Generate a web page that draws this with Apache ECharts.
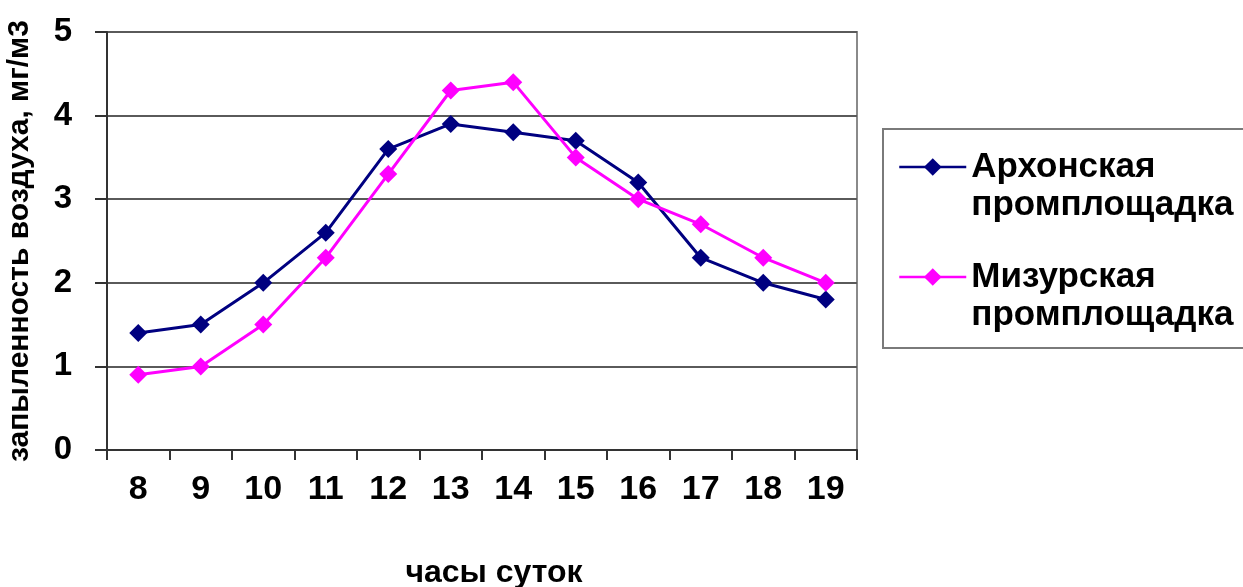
<!DOCTYPE html>
<html>
<head>
<meta charset="utf-8">
<script src="https://cdn.jsdelivr.net/npm/echarts@6/dist/echarts.min.js"></script>
<style>
  html, body { margin: 0; padding: 0; background: #fff; }
  #chart { width: 1243px; height: 587px; }
</style>
</head>
<body>
<div id="chart"></div>
<script>
// Hours of the day
const hours = ['8', '9', '10', '11', '12', '13', '14', '15', '16', '17', '18', '19'];
// Dust concentration, mg/m3
const arkhonskaya = [1.4, 1.5, 2.0, 2.6, 3.6, 3.9, 3.8, 3.7, 3.2, 2.3, 2.0, 1.8];
const mizurskaya = [0.9, 1.0, 1.5, 2.3, 3.3, 4.3, 4.4, 3.5, 3.0, 2.7, 2.3, 2.0];
const seriesNames = ['Архонская промплощадка', 'Мизурская промплощадка'];
const yTicks = { min: 0, max: 5, interval: 1 };

const FONT = '"Liberation Sans", Arial, sans-serif';
const LINE_H = 38;

const chart = echarts.init(document.getElementById('chart'), null, { renderer: 'canvas' });

chart.setOption({
  backgroundColor: '#ffffff',
  animation: false,
  grid: {
    left: 107, top: 32, right: 386, bottom: 137,
    containLabel: false,
    outerBoundsMode: 'none',
    show: true, borderColor: '#8a8a8a', borderWidth: 2, backgroundColor: 'transparent'
  },
  legend: {
    orient: 'vertical',
    left: 898,
    top: 110,
    padding: 0,
    itemGap: -4,
    itemWidth: 67,
    itemHeight: 22,
    data: seriesNames,
    lineStyle: { width: 2.5 },
    // leading empty line keeps the symbol level with the first text line
    formatter: name => '\n' + name.replace(' ', '\n'),
    textStyle: {
      fontFamily: FONT, fontWeight: 'bold', fontSize: 35, color: '#000',
      lineHeight: LINE_H
    }
  },
  graphic: [{
    type: 'rect',
    shape: { x: 883, y: 129, width: 380, height: 219 },
    style: { fill: 'none', stroke: '#7a7a7a', lineWidth: 2 },
    z: -1
  }],
  xAxis: {
    type: 'category',
    data: hours,
    boundaryGap: true,
    name: 'часы суток',
    nameLocation: 'middle',
    nameGap: 107,
    nameTextStyle: { fontFamily: FONT, fontWeight: 'bold', fontSize: 32, color: '#000', padding: [0, 0, 0, 24] },
    axisLine: { lineStyle: { color: '#333', width: 2 } },
    axisTick: { show: true, inside: false, length: 10, alignWithLabel: false, lineStyle: { color: '#333', width: 2 } },
    axisLabel: { margin: 23, fontFamily: FONT, fontWeight: 'bold', fontSize: 34, color: '#000' },
    splitLine: { show: false }
  },
  yAxis: {
    type: 'value',
    min: yTicks.min, max: yTicks.max, interval: yTicks.interval,
    name: 'запыленность воздуха, мг/м3',
    nameLocation: 'middle',
    nameRotate: 90,
    nameGap: 72,
    nameTextStyle: { fontFamily: FONT, fontWeight: 'bold', fontSize: 30, color: '#000' },
    axisLine: { show: true, lineStyle: { color: '#333', width: 2 } },
    axisTick: { show: true, inside: false, length: 12, lineStyle: { color: '#333', width: 2 } },
    axisLabel: { margin: 35, fontFamily: FONT, fontWeight: 'bold', fontSize: 33, color: '#000' },
    splitLine: { show: true, lineStyle: { color: '#5a5a5a', width: 2 } }
  },
  series: [
    {
      name: seriesNames[0],
      type: 'line',
      data: arkhonskaya,
      symbol: 'diamond',
      symbolSize: 18,
      color: '#000080',
      lineStyle: { color: '#000080', width: 3 },
      itemStyle: { color: '#000080' }
    },
    {
      name: seriesNames[1],
      type: 'line',
      data: mizurskaya,
      symbol: 'diamond',
      symbolSize: 18,
      color: '#ff00ff',
      lineStyle: { color: '#ff00ff', width: 3 },
      itemStyle: { color: '#ff00ff' }
    }
  ]
});
</script>
</body>
</html>
